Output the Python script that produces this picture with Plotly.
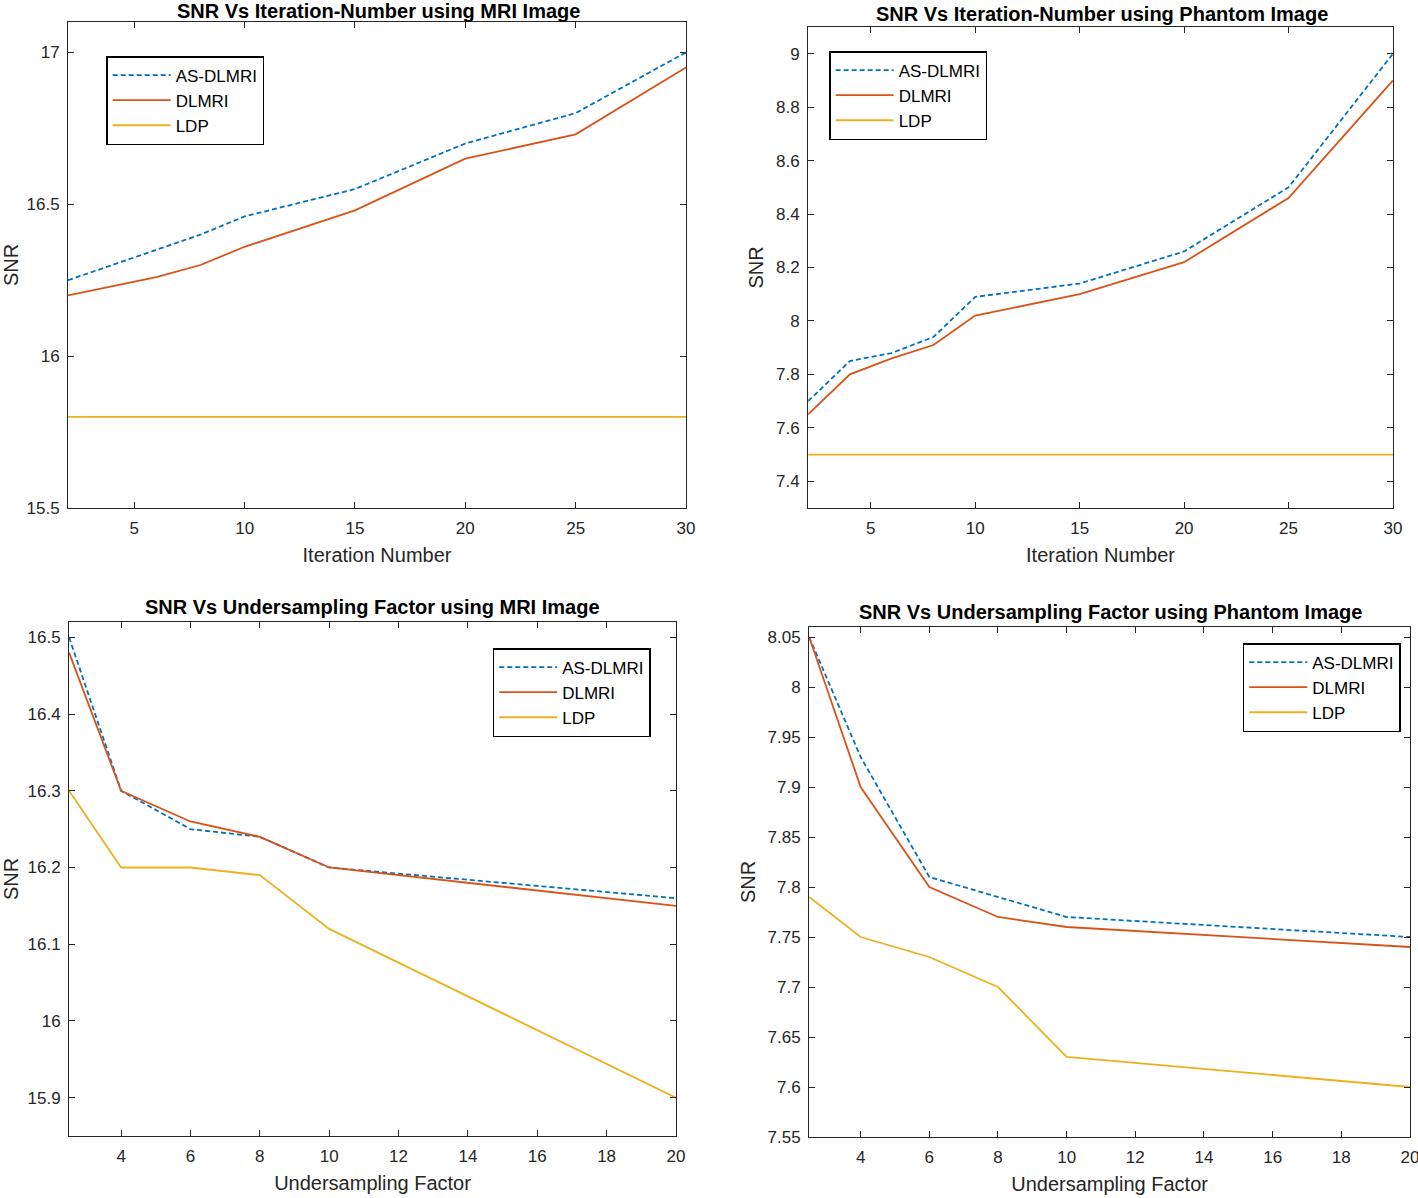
import plotly.graph_objects as go

# ---------------- data ----------------
iter_x = [2, 4, 6, 8, 10, 15, 20, 25, 30]
mri_iter_as = [16.25, 16.30, 16.35, 16.40, 16.46, 16.55, 16.70, 16.80, 17.00]
mri_iter_dl = [16.20, 16.23, 16.26, 16.30, 16.36, 16.48, 16.65, 16.73, 16.95]
mri_iter_ldp = [15.80] * 9

ph_iter_as = [7.70, 7.85, 7.88, 7.94, 8.09, 8.14, 8.26, 8.50, 9.00]
ph_iter_dl = [7.65, 7.80, 7.86, 7.91, 8.02, 8.10, 8.22, 8.46, 8.90]
ph_iter_ldp = [7.50] * 9

us_x = [2.5, 4, 6, 8, 10, 20]
mri_us_as = [16.50, 16.30, 16.25, 16.24, 16.20, 16.16]
mri_us_dl = [16.48, 16.30, 16.26, 16.24, 16.20, 16.15]
mri_us_ldp = [16.30, 16.20, 16.20, 16.19, 16.12, 15.90]

ph_us_as = [8.05, 7.93, 7.81, 7.79, 7.77, 7.75]
ph_us_dl = [8.05, 7.90, 7.80, 7.77, 7.76, 7.74]
ph_us_ldp = [7.79, 7.75, 7.73, 7.70, 7.63, 7.60]

names = ["AS-DLMRI", "DLMRI", "LDP"]
titles = ["SNR Vs Iteration-Number using MRI Image",
          "SNR Vs Iteration-Number using Phantom Image",
          "SNR Vs Undersampling Factor using MRI Image",
          "SNR Vs Undersampling Factor using Phantom Image"]
xlabels = ["Iteration Number", "Iteration Number", "Undersampling Factor", "Undersampling Factor"]

# ---------------- style ----------------
K = 1.008  # compensation for the capture scale
W, H = 1418 * K, 1198 * K
colors = ["#0072BD", "#D95319", "#EDB120"]
dashes = ["5px,3px", "solid", "solid"]
FONT = "Liberation Sans, Arial, sans-serif"
TXT = "#262626"

# panel boxes in reference pixels: left, right, top, bottom
boxes = [(68, 685, 22, 508), (807, 1391, 27, 508),
         (69, 675, 622, 1136), (808, 1408, 627, 1137)]
xranges = [[2, 30], [2, 30], [2.5, 20], [2.5, 20]]
yranges = [[15.5, 17.1], [7.3, 9.1], [15.85, 16.52], [7.55, 8.06]]
xticks = [[5, 10, 15, 20, 25, 30], [5, 10, 15, 20, 25, 30],
          [4, 6, 8, 10, 12, 14, 16, 18, 20], [4, 6, 8, 10, 12, 14, 16, 18, 20]]
yticks = [[15.5, 16, 16.5, 17], [7.4, 7.6, 7.8, 8, 8.2, 8.4, 8.6, 8.8, 9],
          [15.9, 16, 16.1, 16.2, 16.3, 16.4, 16.5],
          [7.55, 7.6, 7.65, 7.7, 7.75, 7.8, 7.85, 7.9, 7.95, 8, 8.05]]
title_pos = [(378, 11), (1100, 14), (372, 607), (1109, 612)]
legend_pos = [(106, 56), (828, 51), (492, 648), (1241, 643)]

panels = [
    (iter_x, [mri_iter_as, mri_iter_dl, mri_iter_ldp]),
    (iter_x, [ph_iter_as, ph_iter_dl, ph_iter_ldp]),
    (us_x, [mri_us_as, mri_us_dl, mri_us_ldp]),
    (us_x, [ph_us_as, ph_us_dl, ph_us_ldp]),
]

RW, RH = 1418, 1198  # reference frame for fractions
fig = go.Figure()
layout = dict(width=round(W), height=round(H), margin=dict(l=0, r=0, t=0, b=0),
              paper_bgcolor="white", plot_bgcolor="white",
              font=dict(family=FONT, color=TXT), annotations=[])

for i, (xs, series) in enumerate(panels):
    k = "" if i == 0 else str(i + 1)
    leg = "legend" if i == 0 else "legend" + str(i + 1)
    for j, ys in enumerate(series):
        fig.add_trace(go.Scatter(
            x=xs, y=ys, mode="lines", name=names[j],
            line=dict(color=colors[j], width=1.8, dash=dashes[j]),
            xaxis="x" + k, yaxis="y" + k, legend=leg))
    l, r, t, b = boxes[i]
    layout["xaxis" + k] = dict(
        domain=[l / RW, r / RW], range=xranges[i], anchor="y" + k,
        tickvals=xticks[i], ticks="inside", ticklen=6, tickcolor=TXT,
        showline=True, linecolor=TXT, linewidth=1.2, mirror="ticks",
        showgrid=False, zeroline=False, ticklabelstandoff=4,
        tickfont=dict(size=17, color=TXT, family=FONT),
        title=dict(text=xlabels[i], font=dict(size=20, color=TXT, family=FONT), standoff=11))
    layout["yaxis" + k] = dict(
        domain=[1 - b / RH, 1 - t / RH], range=yranges[i], anchor="x" + k,
        tickvals=yticks[i], ticks="inside", ticklen=6, tickcolor=TXT,
        showline=True, linecolor=TXT, linewidth=1.2, mirror="ticks",
        showgrid=False, zeroline=False, ticklabelstandoff=4,
        tickfont=dict(size=17, color=TXT, family=FONT),
        title=dict(text="SNR", font=dict(size=20, color=TXT, family=FONT), standoff=6))
    lx, ly = legend_pos[i]
    layout[leg] = dict(x=lx / RW, y=1 - ly / RH, xanchor="left", yanchor="top",
                       xref="paper", yref="paper", itemwidth=58,
                       bgcolor="white", bordercolor="#000000", borderwidth=1.5,
                       font=dict(size=17, color="#000000", family=FONT),
                       tracegroupgap=0)
    tx, ty = title_pos[i]
    layout["annotations"].append(dict(
        text="<b>" + titles[i] + "</b>", x=tx / RW, y=1 - ty / RH,
        xref="paper", yref="paper", xanchor="center", yanchor="middle",
        showarrow=False, font=dict(size=20, color="#000000", family=FONT)))

fig.update_layout(**layout)
post = ("document.body.style.margin='0';document.body.style.overflow='hidden';"
        "var d=document.getElementById('{plot_id}');d.style.position='fixed';"
        "d.style.left='0px';d.style.top='0px';")
fig.write_html("out.html", post_script=post, config={"displayModeBar": False})
